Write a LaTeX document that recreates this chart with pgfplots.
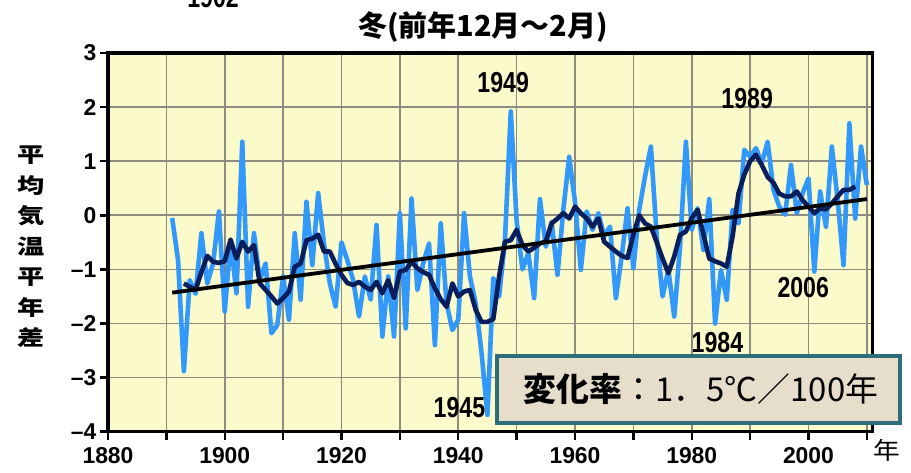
\documentclass[border=0pt]{standalone}
\usepackage{pgfplots}
\pgfplotsset{compat=1.18}
\usepackage{pgfplotstable}
\usepackage{graphicx}
\usepackage{fontspec}
\setmainfont{Liberation Sans}
\newfontfamily\jp{Noto Sans CJK JP}
\newfontfamily\narrow[FakeStretch=0.8]{Liberation Sans}

\definecolor{bgyellow}{RGB}{250,250,202}
\definecolor{gridgray}{RGB}{140,140,128}
\definecolor{annual}{RGB}{50,152,250}
\definecolor{runmean}{RGB}{10,30,92}
\definecolor{boxfill}{RGB}{230,222,202}
\definecolor{boxedge}{RGB}{46,110,122}

% winter mean temperature anomaly (deg C), each year
\pgfplotstableread{
year  val
1891 -0.05
1892 -0.83
1893 -2.88
1894 -1.20
1895 -1.45
1896 -0.33
1897 -1.26
1898 -0.89
1899  0.07
1900 -1.78
1901 -0.46
1902 -1.44
1903  1.36
1904 -1.69
1905 -0.33
1906 -1.20
1907 -0.89
1908 -2.18
1909 -2.03
1910 -1.13
1911 -1.93
1912 -0.33
1913 -1.56
1914  0.25
1915 -0.92
1916  0.41
1917 -0.52
1918 -1.26
1919 -1.69
1920 -0.50
1921 -0.83
1922 -1.20
1923 -1.87
1924 -1.13
1925 -1.56
1926 -0.18
1927 -2.24
1928 -1.13
1929 -2.24
1930  0.04
1931 -2.09
1932  0.31
1933 -1.38
1934 -0.89
1935 -0.52
1936 -2.40
1937 -0.15
1938 -1.63
1939 -2.12
1940 -1.93
1941  0.04
1942 -1.13
1943 -1.63
1944 -2.55
1945 -3.69
1946 -1.16
1947 -1.50
1948 -0.46
1949  1.92
1950 -0.10
1951 -1.00
1952 -0.70
1953 -1.53
1954  0.30
1955 -0.58
1956 -0.12
1957 -1.10
1958  0.10
1959  1.08
1960  0.25
1961 -1.01
1962  0.07
1963 -0.27
1964  0.04
1965 -0.39
1966 -0.21
1967 -1.53
1968 -0.76
1969  0.13
1970 -0.98
1971  0.10
1972  0.72
1973  1.27
1974 -0.39
1975 -1.50
1976 -1.01
1977 -1.87
1978 -0.58
1979  1.36
1980 -0.27
1981  0.13
1982 -0.64
1983  0.30
1984 -2.00
1985 -1.01
1986 -1.56
1987  0.10
1988 -0.15
1989  1.21
1990  1.08
1991  1.24
1992  0.96
1993  1.36
1994  0.47
1995  0.16
1996  0.01
1997  0.93
1998  0.04
1999  0.41
2000  0.68
2001 -1.04
2002  0.44
2003 -0.21
2004  1.27
2005  0.28
2006 -0.92
2007  1.70
2008 -0.06
2009  1.27
2010  0.56
}\annualdata

% five-year running mean
\pgfplotstableread{
year  val
1893 -1.26
1894 -1.32
1895 -1.38
1896 -1.05
1897 -0.75
1898 -0.86
1899 -0.88
1900 -0.85
1901 -0.45
1902 -0.80
1903 -0.49
1904 -0.67
1905 -0.55
1906 -1.26
1907 -1.38
1908 -1.50
1909 -1.63
1910 -1.53
1911 -1.41
1912 -0.95
1913 -0.89
1914 -0.46
1915 -0.43
1916 -0.36
1917 -0.67
1918 -0.67
1919 -0.90
1920 -1.10
1921 -1.25
1922 -1.29
1923 -1.23
1924 -1.32
1925 -1.38
1926 -1.23
1927 -1.44
1928 -1.20
1929 -1.53
1930 -1.04
1931 -1.01
1932 -0.86
1933 -0.98
1934 -1.05
1935 -1.10
1936 -1.35
1937 -1.55
1938 -1.69
1939 -1.26
1940 -1.50
1941 -1.41
1942 -1.38
1943 -1.75
1944 -1.97
1945 -1.97
1946 -1.92
1947 -1.13
1948 -0.49
1949 -0.46
1950 -0.27
1951 -0.55
1952 -0.67
1953 -0.60
1954 -0.52
1955 -0.48
1956 -0.15
1957 -0.06
1958  0.04
1959 -0.06
1960  0.16
1961  0.04
1962 -0.06
1963 -0.21
1964 -0.06
1965 -0.49
1966 -0.58
1967 -0.67
1968 -0.75
1969 -0.79
1970 -0.36
1971  0.00
1972 -0.15
1973 -0.21
1974 -0.50
1975 -0.80
1976 -1.07
1977 -0.76
1978 -0.36
1979 -0.30
1980 -0.05
1981  0.10
1982 -0.35
1983 -0.80
1984 -0.85
1985 -0.89
1986 -0.95
1987 -0.39
1988  0.40
1989  0.75
1990  1.00
1991  1.12
1992  0.93
1993  0.71
1994  0.60
1995  0.40
1996  0.35
1997  0.35
1998  0.44
1999  0.28
2000  0.16
2001  0.04
2002  0.13
2003  0.11
2004  0.22
2005  0.35
2006  0.47
2007  0.47
2008  0.53
}\meandata

\begin{document}
\begin{tikzpicture}
\begin{axis}[
  at={(108bp,41.3bp)}, anchor=south west,
  scale only axis, width=764.7bp, height=378.7bp,
  xmin=1880, xmax=2011, ymin=-4, ymax=3,
  axis background/.style={fill=bgyellow},
  axis line style={line width=3.2bp, black},
  xtick={1880,1890,...,2010},
  xticklabels={1880,,1900,,1920,,1940,,1960,,1980,,2000,},
  ytick={-4,-3,...,3},
  yticklabels={\textendash4,\textendash3,\textendash2,\textendash1,0,1,2,3},
  tick pos=left, tick align=outside,
  major tick length=8bp,
  tick style={line width=2.4bp, black},
  grid=major,
  major grid style={line width=1.7bp, gridgray},
  ticklabel style={font=\bfseries\fontsize{23}{23}\selectfont},
  xticklabel style={yshift=-4bp},
  clip=false,
]
\addplot[annual, line width=4.6bp, line join=round] table[x=year,y=val]{\annualdata};
\addplot[runmean, line width=4.6bp, line join=round] table[x=year,y=val]{\meandata};
\addplot[black, line width=3.8bp] coordinates {(1891,-1.43) (2010,0.30)};

\node[font=\narrow\bfseries\fontsize{29}{29}\selectfont] at (axis cs:1947.7,2.45) {1949};
\node[font=\narrow\bfseries\fontsize{29}{29}\selectfont] at (axis cs:1989.5,2.15) {1989};
\node[font=\narrow\bfseries\fontsize{29}{29}\selectfont] at (axis cs:1940.2,-3.56) {1945};
\node[font=\narrow\bfseries\fontsize{29}{29}\selectfont] at (axis cs:1984.4,-2.36) {1984};
\node[font=\narrow\bfseries\fontsize{29}{29}\selectfont] at (axis cs:1999.1,-1.33) {2006};
\node[font=\narrow\bfseries\fontsize{29}{29}\selectfont] at (axis cs:1898.0,4.02) {1902};
\end{axis}

% rate of change box
\draw[line width=3.4bp, draw=boxedge, fill=boxfill] (497bp,50bp) rectangle (900bp,117bp);
\node[font=\jp\fontsize{33}{33}\selectfont] at (701bp,84bp) {{\bfseries 変化率}：1．5℃／100年};

% title and axis captions
\node[font=\jp\bfseries\fontsize{29}{29}\selectfont] at (483bp,446bp) {冬(前年12月～2月)};
\foreach \c [count=\i from 0] in {平,均,気,温,平,年,差}
  \node[font=\jp\bfseries\fontsize{21}{21}\selectfont, inner sep=0pt]
    at (31bp,318bp-\i*30.5bp) {\scalebox{1.3}[1]{\c}};
\node[font=\jp\fontsize{24}{24}\selectfont] at (887bp,23bp) {\scalebox{1.12}[1]{年}};

\pgfresetboundingbox
\useasboundingbox (0bp,0bp) rectangle (911bp,473bp);
\end{tikzpicture}
\end{document}
